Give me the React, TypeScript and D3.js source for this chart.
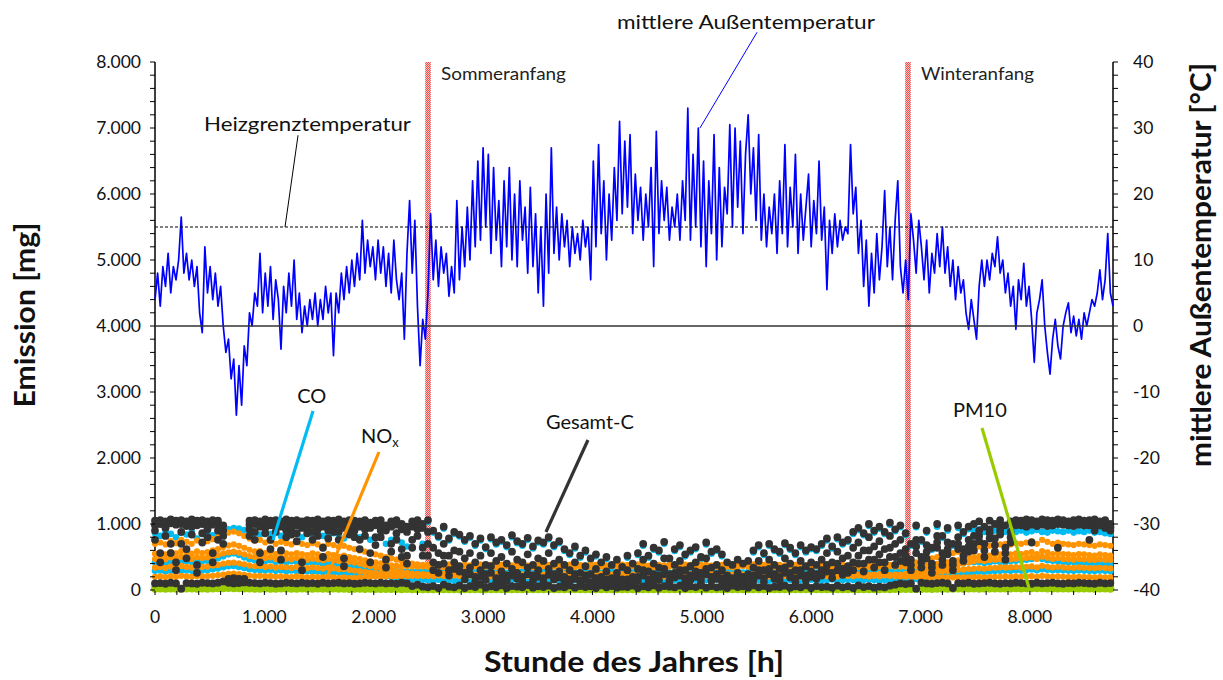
import React from "react";
import * as d3 from "d3";

const WIDTH = 1223;
const HEIGHT = 680;
const PLOT = { left: 155, right: 1113, top: 62, bottom: 590 };

const YEAR_HOURS = 8760;
const TEMP_STEP_H = 24; // one temperature sample per day
const EMISSION_STEP_H = 48; // one emission sample every two days

const hourTicks = [0, 1000, 2000, 3000, 4000, 5000, 6000, 7000, 8000];
const emissionTicks = [0, 1000, 2000, 3000, 4000, 5000, 6000, 7000, 8000];
const temperatureTicks = [-40, -30, -20, -10, 0, 10, 20, 30, 40];

const HEATING_LIMIT_C = 15;
const seasonMarks = [
  { label: "Sommeranfang", hour: 2496, labelWidth: 125 },
  { label: "Winteranfang", hour: 6885, labelWidth: 113 },
];

// mean outdoor temperature [°C], daily samples from hour 0 to 8760
const temperature = [
  4, 8, 3, 9, 6, 11, 5, 9, 7, 10,
  16.5, 8, 11, 7, 10, 6, 9, 2, -1, 12,
  5, 9, 4, 8, 3, 6, 0, -4, -2, -8,
  -5, -13.5, -6, -12, -3, -6, 2, 0, 5, 3,
  11, 2, 8, 3, 9, 1, 7, 4, -3.5, 6,
  2, 8, 3, 10, 1, 5, -1, 3, 0, 4,
  1, 5, 0, 4, 1, 6, 2, 5, -4.5, 5,
  2, 8, 4, 9, 5, 10, 6, 11, 7, 16,
  8, 13, 9, 12, 7, 13, 8, 12, 6, 11,
  5, 13, 7, 4, 8, -2, 11, 19, 8, 16,
  3, -6, 1, -2, 5, 17, 7, 13, 6, 12,
  8, 11, 4.5, 9, 5, 19, 7, 15, 9, 18,
  10, 22, 12, 25, 13, 27, 15, 26, 11, 24,
  13, 19, 9, 22, 12, 24, 10, 20, 9, 22,
  13, 18, 8, 21, 9, 17, 5, 15, 3, 20,
  8, 27, 11, 18, 10, 17, 12, 16, 9, 15,
  11, 14, 10, 16, 12, 15, 7, 25, 12, 27.5,
  14, 22, 10, 20, 13, 24, 16, 31, 17, 28,
  18, 29, 14, 23, 16, 21, 13, 20, 15, 24,
  9, 29.5, 14, 22, 16, 21, 13, 18, 15, 20,
  13, 22, 16, 33, 13, 26, 15, 30, 12, 25,
  9, 22, 14, 29, 10, 24, 12, 21, 17, 30.5,
  15, 30, 18, 28, 14, 26, 32, 20, 27, 16,
  29, 13, 20, 12, 18, 14, 20, 11, 22, 14,
  27.5, 12, 21, 15, 26, 11, 20, 13, 18, 23,
  12, 19, 14, 25, 13, 18, 5.5, 16, 11, 17,
  12, 16, 13, 15, 14, 27.5, 17, 21, 11, 16,
  6, 13, 3, 11, 5, 14, 7, 12, 20.5, 9,
  15, 7, 16, 22, 9, 5, 10, 4, 17, 13,
  8, 16, 12, 7, 13, 5, 11, 8, 14, 9,
  15, 8, 12, 6, 10, 4, 9, 5, 7, 2,
  -0.5, 4, 1, -2, 6, 10, 6, 10, 7, 11,
  9, 13.5, 8, 10, 5, 8, 3, 6, -0.5, 7,
  4, 9.5, 3, 6, 1, -5.5, 2, 4, 7, 0,
  -4, -7.3, -2, 1, -3, -5, 0, 2, 3.5, -1,
  1.5, -1.5, 1, -2, 2, 0, 2, 4, 3, 5,
  8.5, 4, 7, 14, 5, 3,
];

// CO emission [mg] per load stage, samples every 48 h
const coStufe1 = [
  // winter
  860, 820, 880, 850, 800, 870, 840, 880, 780, 860, 880, 830, 870,
  900, 920, 940, 930, 910,
  880, 860, 840, 870, 850, 880, 820, 860, 870, 850,
  800, 860, 850, 870, 820, 850, 860, 840, 780, 850,
  830, 800, 840, 760, 780, 820, 700, 760, 800, 720,
  660, 760, 820, 700,
  // summer
  1030, 870, 790, 930, 750, 850, 810,
  730, 790, 670, 750, 620, 770, 690, 730, 650, 800, 710, 670, 760, 630, 720, 690, 770, 650, 710,
  590, 530, 630, 490, 570, 450, 510, 390, 470,
  350, 430, 320, 490, 370,
  530, 670, 490, 610, 570, 700, 450, 590, 650, 510, 570, 620, 470, 690, 550, 590, 510,
  390, 350, 430, 370, 410,
  570, 650, 530, 670, 590, 550, 680, 610, 530, 650, 570, 620, 590,
  670, 750, 630, 770, 690, 730,
  850, 910, 830, 970, 870, 930, 850, 990, 890, 950,
  // winter
  830, 670, 950, 730, 870, 610, 960, 790, 900, 670, 940, 850, 920,
  900, 920, 880, 910, 900, 930, 880, 910,
  880, 900, 870, 890, 910, 880, 870, 900, 890, 880, 900, 870, 890, 880, 900, 870, 880, 860, 850,
];

const coStufe2 = [
  420, 435, 410, 425, 445, 420, 435, 425, 450, 435,
  445, 465, 480, 510, 540, 555, 530, 495, 465, 450,
  445, 435, 450, 425, 440, 420, 435, 425, 410, 420,
  405, 420, 395, 405, 385, 395, 375, 365, 355, 345,
  330, 335, 320, 310, 300, 295, 290, 285, 285, 280,
  280, 280,
  270, 280, 265, 275, 285, 270, 260, 275, 280, 270,
  265, 280, 275, 270, 285, 260, 275, 270, 280, 265,
  275, 270, 285, 275, 260, 270, 280, 275, 265, 270,
  280, 270, 275, 265, 285, 270, 275, 260, 280, 270,
  275, 265, 280, 270, 275, 285, 265, 270, 280, 275,
  270, 260, 275, 280, 270, 265, 285, 275, 270, 280,
  265, 275, 270, 280, 260, 275, 270, 285, 275, 265,
  270, 280, 275, 270, 265, 280, 275, 270, 285, 265,
  275, 270, 280, 275, 270, 285, 280, 290, 285, 290, 295,
  285, 290, 300, 315, 330, 345, 360, 370, 385, 390,
  400, 405, 420, 420, 425, 410, 420, 435, 425, 420,
  435, 445, 450, 460, 470, 485, 470, 450, 445, 435,
  425, 420, 425, 410, 420, 400, 410, 400, 395, 400,
];

const coStufe3 = [
  290, 295, 280, 290, 300, 290, 295, 290, 305, 295,
  300, 315, 325, 345, 360, 365, 350, 335, 315, 305,
  300, 295, 305, 290, 300, 285, 295, 285, 280, 285,
  275, 280, 270, 275, 262, 268, 255, 258, 250, 245,
  240, 232, 225, 218, 210, 200, 190, 180, 172, 165,
  160, 155,
  150, 145, 155, 160, 150, 140, 155, 150, 145, 160,
  150, 155, 145, 150, 160, 140, 150, 155, 150, 145,
  160, 150, 145, 155, 150, 140, 155, 160, 150, 145,
  150, 155, 140, 150, 160, 145, 150, 155, 150, 145,
  155, 150, 160, 145, 150, 140, 155, 150, 145, 160,
  150, 155, 145, 150, 140, 160, 150, 145, 155, 150,
  145, 150, 160, 150, 155, 140, 150, 145, 155, 150,
  160, 145, 150, 155, 150, 140, 150, 160, 145, 150,
  155, 150, 145, 150, 160, 150, 145, 150, 155, 150, 155,
  155, 160, 168, 176, 185, 195, 205, 215, 225, 235,
  245, 255, 262, 270, 278, 272, 282, 286, 290, 295,
  290, 298, 294, 302, 310, 298, 315, 306, 298, 302,
  298, 294, 290, 298, 294, 290, 286, 294, 290, 286,
];

// NOx emission [mg] per load stage
const noxStufe1 = [
  700, 720, 690, 740, 710, 760, 730, 700, 750, 720,
  740, 770, 800, 840, 870, 885, 860, 820, 780, 750,
  760, 720, 740, 700, 730, 710, 690, 720, 700, 680,
  710, 690, 660, 700, 680, 650, 670, 640, 620, 600,
  580, 560, 540, 520, 500, 480, 460, 440, 420, 400,
  390, 380,
  380, 370, 385, 375, 390, 380, 370, 385, 375, 380,
  390, 375, 380, 370, 385, 380, 375, 390, 380, 370,
  385, 380, 375, 380, 390, 370, 380, 385, 375, 380,
  370, 385, 380, 390, 375, 380, 370, 385, 380, 375,
  390, 380, 370, 385, 380, 375, 380, 390, 370, 385,
  380, 375, 385, 380, 370, 390, 380, 375, 385, 380,
  370, 380, 390, 375, 380, 385, 370, 380, 375, 390,
  380, 385, 370, 380, 375, 385, 380, 390, 375, 380,
  370, 385, 380, 375, 390, 380, 385, 370, 380, 385, 390,
  390, 400, 420, 440, 460, 480, 500, 520, 540, 560,
  580, 600, 620, 640, 660, 650, 670, 680, 690, 700,
  690, 710, 700, 720, 740, 700, 760, 730, 700, 720,
  700, 690, 680, 700, 690, 680, 670, 690, 680, 670,
];

const noxStufe2 = [
  550, 560, 540, 575, 555, 590, 570, 550, 585, 560,
  575, 600, 620, 650, 675, 690, 670, 640, 610, 585,
  590, 560, 575, 545, 570, 555, 540, 560, 545, 530,
  555, 540, 515, 545, 530, 505, 520, 500, 485, 470,
  450, 435, 420, 405, 390, 375, 365, 360, 358, 356,
  355, 355,
  355, 350, 360, 345, 355, 365, 350, 355, 345, 360,
  350, 355, 365, 350, 345, 360, 355, 350, 365, 355,
  345, 355, 360, 350, 355, 365, 345, 355, 350, 360,
  355, 345, 360, 355, 350, 365, 355, 350, 345, 360,
  350, 365, 355, 345, 360, 350, 355, 365, 350, 355,
  360, 350, 345, 355, 365, 350, 360, 355, 345, 350,
  365, 355, 350, 360, 345, 355, 350, 365, 355, 360,
  350, 345, 360, 355, 365, 350, 355, 345, 360, 350,
  355, 365, 350, 355, 345, 360, 355, 350, 360, 355, 355,
  355, 360, 365, 370, 375, 385, 395, 405, 420, 435,
  450, 470, 485, 500, 515, 505, 520, 530, 540, 545,
  540, 555, 545, 560, 575, 545, 590, 570, 545, 560,
  545, 540, 530, 545, 540, 530, 520, 540, 530, 520,
];

const noxStufe3 = [
  470, 485, 465, 495, 475, 505, 490, 470, 500, 485,
  495, 510, 530, 555, 570, 580, 565, 540, 515, 500,
  505, 485, 495, 470, 490, 475, 465, 485, 470, 460,
  475, 465, 450, 470, 460, 440, 450, 430, 415, 400,
  380, 365, 350, 330, 315, 300, 285, 270, 260, 250,
  245, 240,
  235, 240, 230, 245, 235, 230, 240, 235, 245, 230,
  240, 235, 230, 245, 240, 235, 230, 240, 235, 245,
  230, 240, 235, 245, 230, 235, 240, 230, 245, 235,
  240, 230, 235, 245, 240, 235, 230, 240, 245, 235,
  230, 245, 235, 240, 230, 235, 245, 240, 230, 235,
  240, 235, 245, 230, 240, 235, 230, 245, 235, 240,
  235, 230, 240, 245, 235, 230, 240, 235, 245, 230,
  240, 235, 230, 240, 245, 235, 230, 240, 235, 245,
  230, 240, 235, 245, 230, 235, 240, 235, 230, 235, 235,
  245, 255, 265, 280, 295, 310, 325, 340, 360, 375,
  390, 410, 420, 435, 450, 440, 455, 460, 465, 470,
  465, 475, 470, 485, 495, 470, 505, 490, 470, 485,
  470, 465, 460, 470, 465, 460, 455, 465, 460, 455,
];

const noxStufe4 = [
  340, 350, 335, 355, 345, 365, 350, 340, 360, 350,
  355, 370, 380, 400, 410, 415, 405, 390, 370, 360,
  365, 350, 355, 340, 350, 345, 335, 350, 340, 330,
  345, 335, 325, 340, 330, 315, 320, 305, 295, 285,
  275, 265, 255, 245, 240, 235, 230, 228, 226, 225,
  225, 225,
  225, 220, 230, 225, 215, 230, 225, 220, 225, 230,
  220, 225, 215, 230, 225, 220, 230, 225, 215, 225,
  230, 220, 225, 230, 215, 225, 220, 230, 225, 220,
  225, 230, 220, 215, 225, 230, 225, 220, 230, 225,
  215, 225, 230, 220, 225, 215, 230, 225, 220, 230,
  225, 220, 215, 230, 225, 220, 230, 225, 215, 225,
  230, 220, 225, 230, 220, 215, 225, 230, 225, 220,
  225, 215, 230, 220, 225, 230, 220, 225, 215, 230,
  225, 220, 230, 225, 215, 225, 220, 230, 225, 220, 215,
  225, 230, 238, 245, 255, 265, 275, 283, 290, 298,
  305, 312, 318, 322, 328, 322, 332, 337, 342, 342,
  342, 347, 342, 352, 357, 342, 367, 352, 342, 352,
  342, 337, 337, 342, 337, 332, 332, 337, 332, 327,
];

const noxStufe5 = [
  200, 205, 195, 210, 200, 215, 205, 200, 210, 205,
  210, 215, 225, 235, 245, 250, 240, 230, 220, 210,
  215, 205, 210, 200, 205, 200, 195, 205, 200, 190,
  200, 195, 190, 200, 190, 185, 190, 180, 185, 190,
  195, 200, 205, 205, 210, 210, 210, 212, 212, 215,
  215, 215,
  215, 210, 220, 215, 205, 220, 215, 210, 220, 215,
  210, 215, 205, 220, 215, 210, 220, 215, 205, 215,
  220, 210, 215, 220, 205, 215, 210, 220, 215, 210,
  215, 220, 210, 205, 215, 220, 215, 210, 220, 215,
  205, 215, 220, 210, 215, 205, 220, 215, 210, 220,
  215, 210, 205, 220, 215, 210, 220, 215, 205, 215,
  220, 210, 215, 220, 210, 205, 215, 220, 215, 210,
  215, 205, 220, 210, 215, 220, 210, 215, 205, 220,
  215, 210, 220, 215, 205, 215, 210, 220, 215, 210, 205,
  205, 200, 200, 195, 195, 190, 190, 190, 190, 190,
  190, 190, 190, 195, 195, 190, 195, 200, 200, 205,
  200, 205, 200, 205, 210, 200, 215, 205, 200, 205,
  200, 195, 195, 200, 195, 195, 190, 195, 190, 190,
];

// PM10 emission [mg]
const pm10 = [
  20, 22, 18, 24, 20, 19, 23, 21, 18, 22,
  20, 24, 26, 28, 30, 28, 25, 22, 21, 20,
  19, 22, 20, 18, 21, 23, 20, 19, 22, 20,
  18, 21, 20, 19, 22, 18, 20, 17, 19, 18,
  16, 18, 17, 15, 16, 14, 15, 13, 14, 12,
  13, 12,
  12, 11, 13, 12, 10, 12, 11, 13, 12, 11,
  10, 12, 13, 11, 12, 10, 11, 13, 12, 11,
  12, 13, 11, 10, 12, 11, 13, 12, 10, 11,
  12, 11, 13, 12, 11, 10, 12, 13, 11, 12,
  11, 10, 12, 13, 11, 12, 10, 11, 13, 12,
  12, 11, 10, 12, 13, 11, 12, 11, 10, 12,
  13, 12, 11, 10, 12, 11, 13, 12, 11, 10,
  12, 13, 11, 12, 10, 11, 12, 13, 11, 12,
  11, 12, 13, 12, 11, 13, 12, 14, 13, 15, 14,
  15, 16, 17, 16, 18, 17, 19, 18, 20, 19,
  21, 20, 22, 21, 20, 22, 21, 23, 22, 24,
  23, 25, 24, 26, 28, 25, 27, 24, 23, 22,
  24, 22, 21, 23, 22, 21, 20, 22, 21, 20,
];

// total carbon (Gesamt-C) emission [mg]
const gesamtCStufe1 = [
  1050, 1060, 1040, 1070, 1050, 1060, 1040, 1070, 1050, 1060, 1040, 1060, 1050,
  980, 130, 120, 125, 140,
  1050, 1060, 1040, 1070, 1050, 1060, 1040, 1070, 1050, 1060,
  1040, 1060, 1050, 1070, 1040, 1060, 1050, 1070, 1040, 1060,
  1050, 1040, 1060, 1020, 1050, 1060, 980, 1040, 1060, 1000,
  960, 1040, 1060, 1000,
  1060, 900, 820, 960, 780, 880, 840,
  760, 820, 700, 780, 650, 800, 720, 760, 680, 830, 740, 700, 790, 660, 750, 720, 800, 680, 740,
  620, 560, 660, 520, 600, 480, 540, 420, 500,
  380, 460, 350, 520, 400,
  560, 700, 520, 640, 600, 730, 480, 620, 680, 540, 600, 650, 500, 720, 580, 620, 540,
  420, 380, 460, 400, 440,
  600, 680, 560, 700, 620, 580, 710, 640, 560, 680, 600, 650, 620,
  700, 780, 660, 800, 720, 760,
  880, 940, 860, 1000, 900, 960, 880, 1020, 920, 980,
  860, 700, 980, 760, 900, 640, 1000, 820, 940, 700, 980, 880, 960,
  1000, 1040, 960, 1050, 1000, 1060, 980, 1040,
  1060, 1050, 1070, 1060, 1040, 1070, 1060, 1050, 1070, 1060, 1040, 1060, 1070, 1050, 1060, 1070, 1040, 1060, 1000,
];

const gesamtCStufe2 = [
  980, 1000, 960, 1010, 990, 1000, 970, 1010, 980, 1000, 960, 990, 1000,
  900, 110, 100, 105, 115,
  990, 1000, 960, 1010, 980, 1000, 960, 990, 1010, 980,
  940, 1000, 990, 1010, 960, 980, 1000, 990, 940, 1000,
  980, 960, 1000, 940, 980, 990, 900, 960, 990, 920,
  880, 960, 1000, 940,
  880, 640, 560, 700, 520, 600, 580,
  480, 560, 420, 520, 380, 560, 440, 500, 400, 580, 460, 420, 540, 380, 480, 440, 560, 400, 460,
  380, 300, 420, 260, 360, 240, 320, 200, 280,
  180, 260, 160, 300, 200,
  320, 460, 280, 400, 340, 480, 240, 380, 440, 300, 360, 420, 260, 480, 340, 380, 300,
  220, 180, 260, 200, 240,
  340, 440, 300, 460, 380, 320, 480, 400, 300, 440, 360, 420, 380,
  460, 560, 420, 580, 480, 520,
  640, 720, 600, 800, 660, 740, 620, 820, 700, 760,
  620, 460, 760, 500, 680, 400, 820, 560, 720, 440, 800, 620, 760,
  820, 900, 700, 920, 780, 960, 640, 880,
  1000, 980, 1010, 990, 970, 1000, 1020, 990, 1000, 1010, 980, 990, 1010, 980, 1000, 900, 980, 940, 900,
];

const gesamtCStufe3 = [
  100, 105, 95, 110, 100, 20, 105, 100, 95, 110, 105, 100, 110,
  130, 160, 180, 170, 140,
  110, 105, 100, 110, 105, 95, 100, 110, 105, 100,
  110, 100, 105, 95, 110, 100, 105, 110, 100, 105,
  95, 100, 110, 105, 100, 110, 100, 105, 95, 110,
  100, 60, 80, 50,
  40, 60, 30, 80, 50, 40, 70, 30, 60, 45,
  80, 35, 55, 40, 70, 30, 60, 50, 40, 75,
  35, 55, 45, 65, 30, 50, 40, 70, 35, 60,
  45, 55, 30, 70, 40, 60, 35, 50, 45, 65,
  30, 55, 40, 70, 35, 60, 50, 40, 65, 30,
  55, 45, 70, 35, 60, 40, 50, 30, 65, 45,
  55, 35, 70, 40, 60, 30, 50, 45, 65, 35,
  55, 40, 70, 30, 60, 45, 50, 35, 65, 40,
  55, 30, 70, 45, 60, 35, 50, 40, 65, 80, 100,
  90, 100, 20, 110, 100, 95, 105, 110, 100, 30,
  105, 100, 110, 95, 100, 105, 110, 100, 95, 105,
  100, 110, 105, 100, 95, 110, 100, 105, 110, 100,
  95, 105, 100, 110, 105, 100, 95, 110, 100, 105,
];

const gesamtCStufe4 = [
  900, 560, 940, 700, 420, 880, 620, 960, 380, 860, 920, 560, 900,
  820, 150, 140, 150, 160,
  920, 880, 560, 940, 760, 960, 600, 900, 940, 860,
  420, 950, 880, 920, 640, 900, 960, 880, 480, 940,
  900, 760, 920, 560, 800, 900, 460, 700, 860, 620,
  520, 760, 920, 640,
  700, 420, 380, 520, 300, 420, 360,
  260, 340, 200, 300, 240, 360, 180, 280, 220, 320, 260, 200, 340, 220, 300, 180, 320, 240, 280,
  200, 160, 240, 140, 220, 120, 180, 140, 160,
  120, 180, 100, 160, 130,
  200, 300, 160, 240, 220, 320, 140, 260, 300, 180, 220, 280, 160, 320, 200, 240, 180,
  140, 120, 160, 130, 150,
  220, 300, 180, 320, 240, 200, 340, 260, 180, 300, 220, 280, 240,
  300, 380, 260, 400, 320, 360,
  420, 520, 400, 600, 460, 540, 420, 640, 500, 560,
  520, 380, 660, 420, 580, 340, 720, 460, 620, 380, 700, 520, 660,
  700, 820, 600, 860, 680, 900, 560, 800,
  980, 1000, 960, 720, 990, 1000, 970, 980, 640, 1000, 990, 970, 1000, 980, 760, 990, 980, 1000, 960,
];

const gesamtCStufe5 = [
  760, 420, 820, 560, 300, 700, 480, 840, 260, 720, 800, 420, 760,
  700, 170, 160, 165, 170,
  820, 760, 420, 860, 620, 880, 460, 800, 840, 740,
  300, 860, 760, 820, 500, 780, 880, 760, 360, 840,
  800, 620, 820, 420, 680, 800, 340, 580, 760, 500,
  400, 640, 820, 520,
  520, 300, 260, 400, 220, 320, 280,
  160, 240, 120, 200, 150, 260, 110, 180, 140, 220, 170, 120, 240, 140, 200, 110, 230, 160, 190,
  130, 100, 170, 90, 150, 80, 120, 90, 110,
  80, 120, 70, 110, 90,
  140, 220, 100, 170, 150, 240, 90, 190, 220, 120, 150, 200, 100, 240, 140, 170, 120,
  90, 80, 110, 90, 100,
  150, 220, 120, 240, 170, 140, 260, 190, 120, 220, 150, 200, 170,
  220, 280, 180, 300, 230, 260,
  300, 400, 280, 460, 340, 420, 300, 500, 380, 440,
  420, 300, 560, 340, 480, 260, 640, 380, 540, 300, 620, 440, 580,
  600, 740, 500, 780, 580, 840, 460, 720,
  990, 1010, 980, 1000, 1020, 990, 1000, 980, 1010, 990, 1000, 1020, 990, 1000, 980, 1010, 990, 960, 940,
];

const CO_COLOR = "#00BCF2";
const NOX_COLOR = "#FF9300";
const PM10_COLOR = "#99CC00";
const GESAMT_C_COLOR = "#333333";
const TEMP_COLOR = "#0000FF";

// drawing order: CO below NOx, PM10, then Gesamt-C on top
const emissionLayers = [
  { name: "CO", color: CO_COLOR, r: 3.3, stages: [coStufe3, coStufe2, coStufe1] },
  { name: "NOx", color: NOX_COLOR, r: 3.1, stages: [noxStufe5, noxStufe4, noxStufe3, noxStufe2, noxStufe1] },
  { name: "PM10", color: PM10_COLOR, r: 4, stages: [pm10] },
  {
    name: "Gesamt-C",
    color: GESAMT_C_COLOR,
    r: 3.9,
    stages: [gesamtCStufe3, gesamtCStufe5, gesamtCStufe4, gesamtCStufe2, gesamtCStufe1],
  },
];

// series labels with leader lines, positions in data units (hour, mg)
const seriesLabels = [
  { text: "CO", color: CO_COLOR, at: [1300, 2833], from: [1445, 2712], to: [1079, 758], width: 3.2 },
  { text: "NO", sub: "x", color: NOX_COLOR, at: [1884, 2227], from: [2048, 2091], to: [1573, 197], width: 3.2 },
  { text: "Gesamt-C", color: GESAMT_C_COLOR, at: [3575, 2439], from: [3959, 2273], to: [3575, 879], width: 3.2 },
  { text: "PM10", color: PM10_COLOR, at: [7297, 2621], from: [7562, 2455], to: [7992, 30], width: 3.2 },
];

const FONT = "Lato, 'Open Sans', 'DejaVu Sans', sans-serif";

export default function App() {
  const x = d3.scaleLinear().domain([0, YEAR_HOURS]).range([PLOT.left, PLOT.right]);
  const yE = d3.scaleLinear().domain([0, 8000]).range([PLOT.bottom, PLOT.top]);
  const yT = d3.scaleLinear().domain([-40, 40]).range([PLOT.bottom, PLOT.top]);

  const de = d3.formatLocale({ decimal: ",", thousands: ".", grouping: [3], currency: ["", " €"] });
  const fmt = de.format(",d");

  const tempPath =
    d3
      .line<number>()
      .x((_, i) => x(i * TEMP_STEP_H))
      .y((v) => yT(v))(temperature) || "";

  const minorHour = d3.range(0, YEAR_HOURS, 200);
  const minorEmission = d3.range(0, 8001, 200);
  const minorTemp = d3.range(-40, 41, 2);

  return (
    <svg
      width={WIDTH}
      height={HEIGHT}
      style={{ position: "absolute", left: 0, top: 0, background: "#fff" }}
      fontFamily={FONT}
    >
      <defs>
        <pattern id="seasonHatch" width="2" height="2" patternUnits="userSpaceOnUse">
          <rect width="2" height="2" fill="#FFC4C4" />
          <rect width="1" height="1" fill="#F04A4A" />
          <rect x="1" y="1" width="1" height="1" fill="#F04A4A" />
        </pattern>
        <clipPath id="plotClip">
          <rect x={PLOT.left - 4} y={PLOT.top - 2} width={PLOT.right - PLOT.left + 8} height={PLOT.bottom - PLOT.top + 7} />
        </clipPath>
      </defs>

      {/* axis lines sit below the series */}
      <g stroke="#000" strokeWidth={1.5}>
        <line x1={PLOT.left} x2={PLOT.left} y1={PLOT.top} y2={PLOT.bottom} />
        <line x1={PLOT.right} x2={PLOT.right} y1={PLOT.top} y2={PLOT.bottom} />
        <line x1={PLOT.left} x2={PLOT.right} y1={PLOT.bottom} y2={PLOT.bottom} />
      </g>

      {/* season boundaries */}
      {seasonMarks.map((s) => (
        <g key={s.label}>
          <rect x={x(s.hour) - 2.8} y={PLOT.top} width={5.6} height={PLOT.bottom - PLOT.top} fill="url(#seasonHatch)" />
          <text
            x={x(s.hour) + 13}
            y={PLOT.top + 18}
            fontSize={17}
            textLength={s.labelWidth}
            lengthAdjust="spacingAndGlyphs"
            fill="#222"
          >
            {s.label}
          </text>
        </g>
      ))}

      {/* emission scatter */}
      <g clipPath="url(#plotClip)">
        {emissionLayers.map((layer) => (
          <g key={layer.name} fill={layer.color}>
            {layer.stages.map((stage, si) =>
              stage.map((v, i) => (
                <circle key={`${si}-${i}`} cx={x(i * EMISSION_STEP_H)} cy={yE(v)} r={layer.r} />
              ))
            )}
          </g>
        ))}
      </g>

      {/* outdoor temperature */}
      <path d={tempPath} fill="none" stroke={TEMP_COLOR} strokeWidth={1.7} strokeLinejoin="round" />

      {/* reference lines: 0 °C and heating limit */}
      <line x1={PLOT.left} x2={PLOT.right} y1={yT(0)} y2={yT(0)} stroke="#333" strokeWidth={1.4} />
      <line
        x1={PLOT.left}
        x2={PLOT.right}
        y1={yT(HEATING_LIMIT_C)}
        y2={yT(HEATING_LIMIT_C)}
        stroke="#000"
        strokeWidth={1}
        strokeDasharray="3,2"
      />

      {/* temperature annotations */}
      <line x1={x(5505)} y1={yT(44.5)} x2={x(4983)} y2={yT(30)} stroke={TEMP_COLOR} strokeWidth={1} />
      <text x={x(4224)} y={yT(45)} fontSize={20} textLength={258} lengthAdjust="spacingAndGlyphs" fill="#111">
        mittlere Außentemperatur
      </text>
      <line x1={x(1308)} y1={yT(28.9)} x2={x(1189)} y2={yT(HEATING_LIMIT_C)} stroke="#000" strokeWidth={1} />
      <text x={x(448)} y={yT(29.5)} fontSize={20} textLength={207} lengthAdjust="spacingAndGlyphs" fill="#111">
        Heizgrenztemperatur
      </text>

      {/* series labels */}
      {seriesLabels.map((l) => (
        <g key={l.text}>
          <line
            x1={x(l.from[0])}
            y1={yE(l.from[1])}
            x2={x(l.to[0])}
            y2={yE(l.to[1])}
            stroke={l.color}
            strokeWidth={l.width}
          />
          <text x={x(l.at[0])} y={yE(l.at[1])} fontSize={20} fill="#111">
            {l.text}
            {l.sub ? (
              <tspan fontSize={13} dy={4}>
                {l.sub}
              </tspan>
            ) : null}
          </text>
        </g>
      ))}

      {/* tick marks */}
      <g stroke="#000" strokeWidth={1}>
        {minorEmission.map((v) => (
          <line key={`e${v}`} x1={PLOT.left - 5} x2={PLOT.left} y1={yE(v)} y2={yE(v)} />
        ))}
        {minorTemp.map((v) => (
          <line key={`t${v}`} x1={PLOT.right} x2={PLOT.right + 5} y1={yT(v)} y2={yT(v)} />
        ))}
        {minorHour.map((v) => (
          <line key={`h${v}`} x1={x(v)} x2={x(v)} y1={PLOT.bottom + 1} y2={PLOT.bottom + 5} />
        ))}
      </g>

      <g fontSize={17.5} fill="#111">
        {emissionTicks.map((v) => (
          <text key={`el${v}`} x={PLOT.left - 14} y={yE(v)} dy="0.36em" textAnchor="end">
            {fmt(v)}
          </text>
        ))}
        {temperatureTicks.map((v) => (
          <text key={`tl${v}`} x={PLOT.right + 20} y={yT(v)} dy="0.36em" textAnchor="start">
            {v}
          </text>
        ))}
        {hourTicks.map((v) => (
          <text key={`hl${v}`} x={x(v)} y={PLOT.bottom + 33} textAnchor="middle">
            {fmt(v)}
          </text>
        ))}
      </g>

      {/* axis titles */}
      <text
        x={634}
        y={672}
        textAnchor="middle"
        fontSize={29}
        fontWeight="bold"
        textLength={300}
        lengthAdjust="spacingAndGlyphs"
        fill="#111"
      >
        Stunde des Jahres [h]
      </text>
      <text
        transform="translate(35,315) rotate(-90)"
        textAnchor="middle"
        fontSize={29}
        fontWeight="bold"
        textLength={185}
        lengthAdjust="spacingAndGlyphs"
        fill="#111"
      >
        Emission [mg]
      </text>
      <text
        transform="translate(1211,265) rotate(-90)"
        textAnchor="middle"
        fontSize={29}
        fontWeight="bold"
        textLength={404}
        lengthAdjust="spacingAndGlyphs"
        fill="#111"
      >
        mittlere Außentemperatur [°C]
      </text>
    </svg>
  );
}
